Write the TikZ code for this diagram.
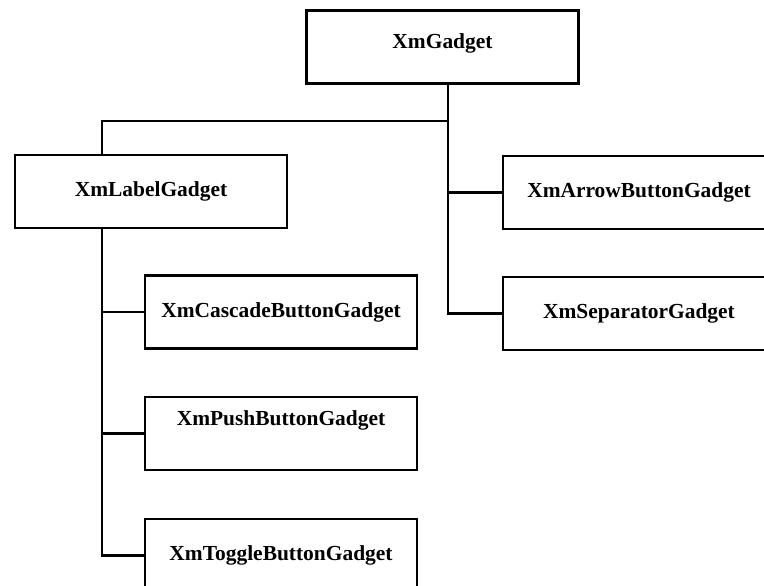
\documentclass[tikz,border=0pt]{standalone}
\usepackage{fontspec}
\setmainfont{Liberation Serif}
\usepackage{tikz}
\usetikzlibrary{positioning}
\tikzset{gbox/.style={rectangle,draw=black,line width=1.3pt,minimum width=5.44cm,minimum height=1.46cm,inner sep=0pt,font=\fontsize{12.2}{14}\selectfont\bfseries}}
\tikzset{tree/.style={line width=1.3pt}}

\begin{document}
\begin{tikzpicture}[x=0.02cm,y=-0.02cm]
\clip (0,0) rectangle (764,585);
\useasboundingbox (0,0) rectangle (764,585);
% \draw[help lines] (0,0) grid (764,585);
\node (gadget) [gbox,text depth=0.25cm] at (442.5,47) {XmGadget};
\node (label) [gbox] at (151,191.5) {XmLabelGadget};
\node (arrow) [gbox] at (639,192.5) {XmArrowButtonGadget};
\node (sep) [gbox] at (639,313.5) {XmSeparatorGadget};
\node (cascade) [gbox] at (281,312) {XmCascadeButtonGadget};
\node (push) [gbox,text depth=0.63cm] at (281,433.5) {XmPushButtonGadget};
\node (toggle) [gbox] at (281,555.5) {XmToggleButtonGadget};
%
\coordinate (trunk) at (448,0);
\coordinate (split) at (102,121);
\draw[tree] (trunk |- gadget.south) |- (split) -- (split |- label.north);
\draw[tree] (trunk |- gadget.south) |- (sep.west);
\draw[tree] (trunk |- arrow.west) -- (arrow.west);
\draw[tree] (split |- label.south) |- (toggle.west);
\draw[tree] (split |- cascade.west) -- (cascade.west);
\draw[tree] (split |- push.west) -- (push.west);
\end{tikzpicture}
\end{document}
